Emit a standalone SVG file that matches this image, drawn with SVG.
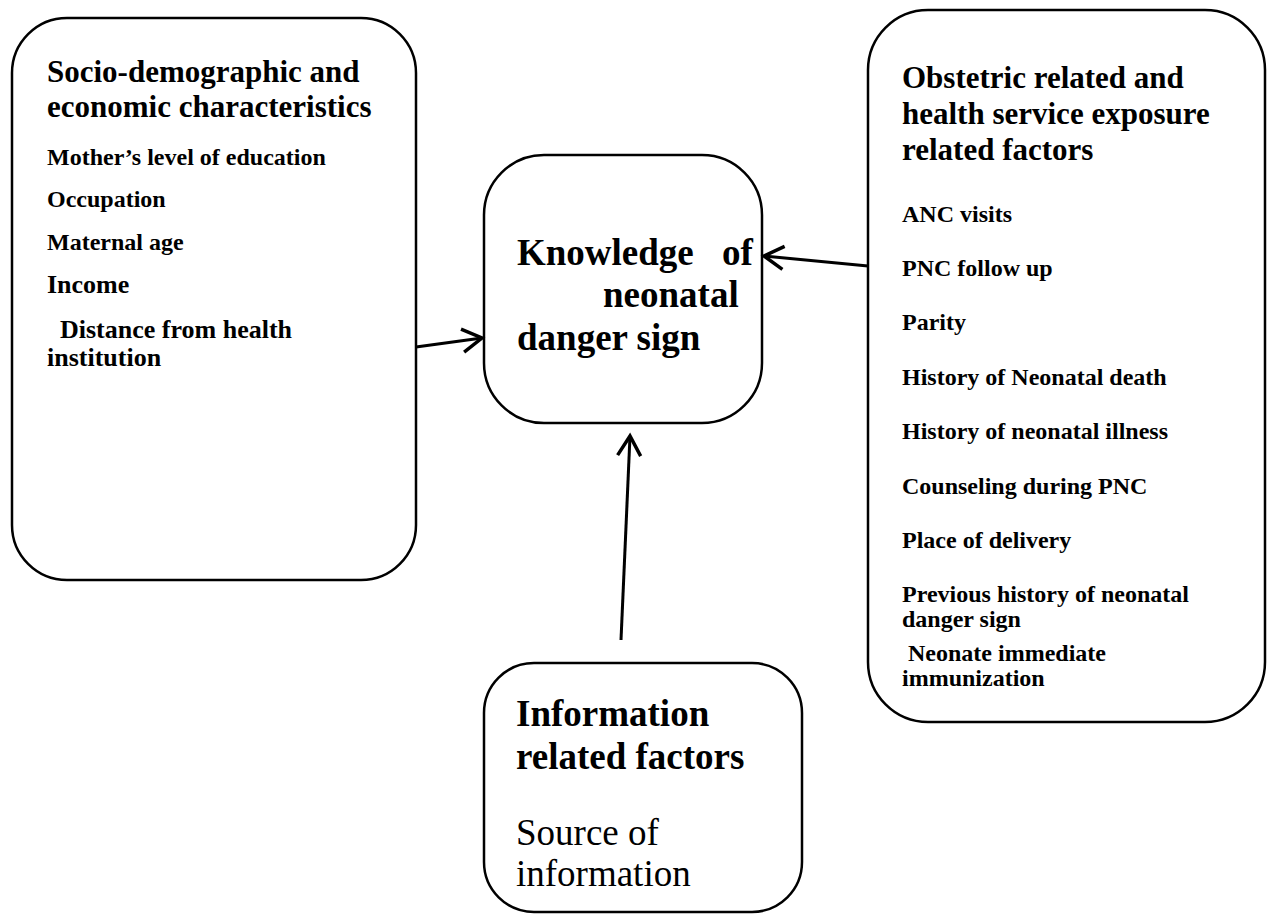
<svg xmlns="http://www.w3.org/2000/svg" width="1268" height="914" viewBox="0 0 1268 914">
<style>
.box{fill:#fff;stroke:#000;stroke-width:2.5}
.t{font-family:"Liberation Serif","Times New Roman",serif;fill:#000}
.b{font-weight:bold}
.h{font-size:31px;font-weight:bold}
.i{font-size:24px;font-weight:bold}
.c{font-size:37px;font-weight:bold}
.conn{stroke:#000;stroke-width:3;fill:none;marker-end:url(#arr)}
</style>
<defs>
<marker id="arr" markerUnits="userSpaceOnUse" markerWidth="30" markerHeight="30" viewBox="-22 -12 26 24" refX="0" refY="0" orient="auto" overflow="visible">
<path d="M -17 -10 L 0 0 L -17 10" fill="none" stroke="#000" stroke-width="3"/>
</marker>
</defs>
<rect width="1268" height="914" fill="#fff"/>
<g id="socio">
<rect class="box" x="12" y="18" width="404" height="562" rx="55" ry="55"/>
<text class="t h" x="47" y="82">Socio-demographic and</text>
<text class="t h" x="47" y="117">economic characteristics</text>
<text class="t i" x="47" y="165">Mother’s level of education</text>
<text class="t i" x="47" y="207">Occupation</text>
<text class="t i" x="47" y="250">Maternal age</text>
<text class="t b" x="47" y="293" font-size="26">Income</text>
<text class="t b" x="47" y="338" font-size="26" xml:space="preserve">  Distance from health</text>
<text class="t b" x="47" y="366" font-size="26">institution</text>
</g>
<g id="knowledge">
<rect class="box" x="484" y="155" width="278" height="268" rx="60" ry="60"/>
<text class="t c" x="517" y="265">Knowledge</text>
<text class="t c" x="722" y="265">of</text>
<text class="t c" x="603" y="307">neonatal</text>
<text class="t c" x="517" y="350">danger sign</text>
</g>
<g id="obstetric">
<rect class="box" x="868" y="10" width="397" height="712" rx="60" ry="60"/>
<text class="t h" x="902" y="88">Obstetric related and</text>
<text class="t h" x="902" y="124">health service exposure</text>
<text class="t h" x="902" y="160">related factors</text>
<text class="t i" x="902" y="222">ANC visits</text>
<text class="t i" x="902" y="276">PNC follow up</text>
<text class="t i" x="902" y="330">Parity</text>
<text class="t i" x="902" y="385">History of Neonatal death</text>
<text class="t i" x="902" y="439">History of neonatal illness</text>
<text class="t i" x="902" y="494">Counseling during PNC</text>
<text class="t i" x="902" y="548">Place of delivery</text>
<text class="t i" x="902" y="602">Previous history of neonatal</text>
<text class="t i" x="902" y="627">danger sign</text>
<text class="t i" x="902" y="661" xml:space="preserve"> Neonate immediate</text>
<text class="t i" x="902" y="686">immunization</text>
</g>
<g id="information">
<rect class="box" x="484" y="663" width="318" height="249" rx="50" ry="50"/>
<text class="t c" x="516" y="726">Information</text>
<text class="t c" x="516" y="769">related factors</text>
<text class="t" x="516" y="845" font-size="37">Source of</text>
<text class="t" x="516" y="886" font-size="37">information</text>
</g>
<g id="connectors">
<path class="conn" d="M 416 347 L 482 338"/>
<path class="conn" d="M 868 266 L 764 256"/>
<path class="conn" d="M 621 640 L 630 436"/>
</g>
</svg>
